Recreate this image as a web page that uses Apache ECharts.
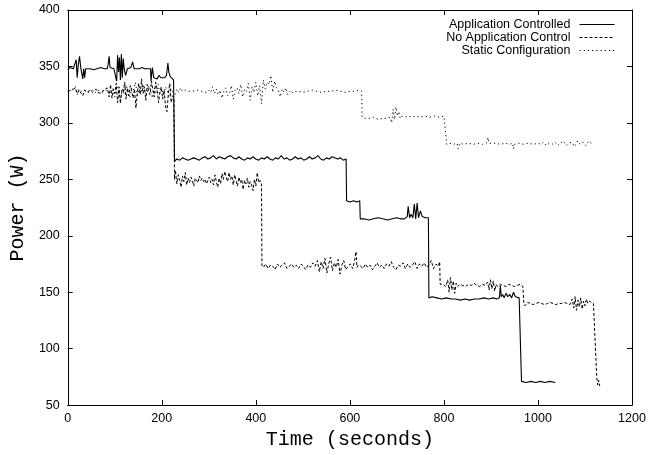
<!DOCTYPE html>
<html>
<head>
<meta charset="utf-8">
<script src="https://cdn.jsdelivr.net/npm/echarts@6/dist/echarts.min.js"></script>
<style>html,body{margin:0;padding:0;background:#fff}#c{width:656px;height:455px}</style>
</head>
<body>
<div id="c"></div>
<script>
const seriesNames = ['Application Controlled', 'No Application Control', 'Static Configuration'];
const xTicks = [0, 200, 400, 600, 800, 1000, 1200];
const yTicks = [50, 100, 150, 200, 250, 300, 350, 400];

// Application Controlled (solid)
const acTime = [0,4,8,12,16,18,20,22,25,28,32,34,36,38,42,48,55,62,70,78,84,86,88,90,94,98,102,104,106,108,110,112,114,116,118,120,123,127,130,134,138,141,146,152,158,164,170,176,
177,180,183,186,190,194,198,202,206,210,213,215,218,222,225,226,
227,232,238,244,250,256,262,268,274,280,286,292,298,304,310,316,322,328,334,340,346,352,358,364,370,376,382,388,394,400,406,412,418,424,430,436,442,448,454,460,466,472,478,484,490,496,502,508,514,520,526,532,538,544,550,556,562,574,580,586,592,
593,600,608,615,621,
622,630,640,650,660,670,680,690,700,708,716,722,724,727,730,734,737,740,743,746,750,754,760,767,
768,775,785,795,805,815,825,835,845,855,865,875,885,895,905,912,918,920,922,925,928,932,936,940,944,948,952,956,960,963,
965,975,985,995,1005,1015,1025,1037];
const acPower = [347,349,348,348,347,356,340,350,359,348,339,348,340,348,349,348,347,348,349,348,348,352,359,349,348,348,349,337,360,345,358,338,361,340,357,348,342,348,348,349,354,348,348,348,349,348,348,348,
337,349,340,341,339,342,340,341,340,342,353,345,341,340,338,339,
266,268,267,269,268,267,268,269,268,267,269,270,268,269,271,268,270,269,268,270,271,269,268,270,268,267,269,268,270,268,267,269,268,270,268,267,269,268,271,268,269,267,268,270,268,269,267,268,270,268,269,271,268,267,269,268,270,268,269,267,268,
231,230,231,230,231,
215,215,214,215,216,215,214,215,216,215,215,217,226,216,219,216,228,215,229,216,222,217,216,216,
145,146,145,144,145,144,144,143,144,143,144,144,145,144,145,144,145,156,146,148,145,149,146,148,145,150,146,147,145,145,
71,70,71,70,71,70,71,70];

// No Application Control (dashed)
const nacTime = [0,4,8,12,16,20,24,28,32,36,40,44,48,52,56,60,64,68,72,76,80,84,88,
91,94,97,100,103,106,109,112,115,118,121,124,127,130,133,136,139,142,145,148,151,154,157,160,163,166,169,172,175,178,181,184,187,190,193,196,199,202,205,208,211,214,217,220,223,226,
227,229,232,235,238,241,244,247,250,253,256,259,262,265,268,271,274,277,280,283,286,289,292,295,298,301,304,307,310,313,316,319,322,325,328,331,334,337,340,343,346,349,352,355,358,361,364,367,370,373,376,379,382,385,388,391,394,397,400,403,406,409,412,
413,416,421,426,431,436,441,446,451,456,461,466,471,476,481,486,491,496,501,506,511,516,521,526,531,535,539,543,547,551,555,559,563,567,571,575,579,583,587,591,596,601,606,610,613,615,618,623,628,633,638,643,648,653,658,663,668,673,678,683,688,693,698,703,708,713,718,723,728,733,738,743,748,753,758,763,768,773,778,783,788,791,
792,794,799,804,808,811,814,817,820,823,826,829,834,840,846,852,858,864,870,876,882,888,893,896,899,902,905,908,911,914,920,926,932,938,944,950,956,962,968,
970,972,978,984,990,996,1002,1008,1014,1020,1026,1032,1038,1044,1050,1056,1062,1068,1073,1076,1079,1082,1085,1088,1091,1094,1097,1100,1103,1106,1110,1114,1118,1121,
1125,1127,1129,1131,1133];
const nacPower = [328,327,329,328,331,326,329,328,324,329,327,328,329,327,328,330,327,328,326,329,328,331,323,
334,322,330,326,335,318,332,317,329,327,336,321,331,324,333,328,322,330,313,327,335,325,339,326,332,320,334,328,325,337,329,323,336,330,318,327,332,321,329,314,310,326,335,318,324,322,
250,258,246,254,249,243,253,248,256,245,251,247,252,249,244,251,250,247,253,249,251,248,250,246,249,252,247,250,245,254,248,243,251,246,255,250,257,252,248,256,250,253,245,254,249,244,252,247,250,241,249,246,251,243,248,245,240,250,244,256,247,249,246,
174,172,175,171,174,173,170,175,172,174,176,171,173,175,172,174,171,175,173,170,174,172,176,173,178,168,177,171,180,167,175,181,169,176,172,179,166,174,178,170,173,175,171,178,186,172,174,173,171,175,172,174,170,173,176,172,174,171,175,173,177,172,170,174,173,176,171,175,172,174,177,171,175,173,176,172,174,178,171,175,173,177,
157,156,157,155,161,150,163,152,160,149,158,155,157,156,155,157,156,158,156,155,157,156,159,152,161,153,160,151,157,155,157,156,155,157,156,155,156,157,155,
140,138,141,140,139,140,141,140,139,140,141,140,139,140,140,141,140,139,144,136,146,134,143,137,145,135,142,138,144,140,142,141,140,139,
75,68,72,67,69];

// Static Configuration (dotted)
const scTime = [0,4,8,12,16,20,24,28,32,36,40,44,48,52,56,60,64,68,72,76,80,84,88,
92,96,100,104,108,112,116,120,124,128,132,136,140,144,148,152,156,160,164,168,172,176,180,184,188,192,196,200,204,208,212,216,220,224,
228,232,236,240,244,250,256,265,275,285,295,300,
304,308,312,316,320,324,328,332,336,340,344,348,352,356,360,364,368,372,376,380,384,388,392,396,400,404,408,412,416,420,424,428,432,436,440,444,448,452,456,460,464,468,472,476,480,
490,500,510,520,530,540,550,560,570,580,590,600,610,620,625,
626,632,640,650,660,670,680,686,689,692,695,698,701,704,707,710,716,724,732,740,750,760,770,780,790,800,803,
806,812,820,828,830,834,842,852,862,872,882,890,894,896,900,910,920,930,940,946,948,950,960,970,980,990,1000,1006,1012,1018,1024,1030,1036,1042,1048,1054,1060,1066,1072,1078,1084,1090,1096,1102,1108,1114,1118];
const scPower = [329,328,329,328,332,325,330,328,328,329,328,327,328,329,328,327,329,328,328,327,329,328,328,
326,331,323,333,328,320,330,326,334,327,322,331,329,336,324,330,327,334,328,325,333,329,322,331,327,334,326,330,325,332,328,323,330,327,
325,330,327,331,328,329,328,328,329,328,327,329,
327,332,326,330,325,329,322,328,331,324,326,333,321,329,331,326,334,323,330,328,335,320,332,327,336,324,333,317,338,330,336,334,342,327,337,331,329,323,330,327,331,325,328,326,328,
328,327,328,329,328,327,328,328,329,328,327,328,328,329,328,
305,304,304,305,303,304,304,305,300,312,303,314,306,310,304,306,305,306,305,306,305,306,305,306,305,306,305,
281,282,281,282,277,282,281,282,281,282,281,282,287,282,281,282,281,282,281,282,277,281,282,281,282,281,282,281,283,280,282,281,283,280,282,284,280,282,283,279,284,281,283,280,284,282,281];

function pairs(t, v) { return t.map((x, i) => [x, v[i]]); }

const chart = echarts.init(document.getElementById('c'), null, {renderer: 'canvas'});
const labelFont = {fontFamily: 'Liberation Sans, Arial, sans-serif', fontSize: 12.5, color: '#000'};
const tick = {show: true, inside: true, length: 5, lineStyle: {color: '#000', width: 1}};
const axisLine = {show: true, onZero: false, lineStyle: {color: '#000', width: 1}};
const nameFont = {fontFamily: 'Liberation Mono, Courier New, monospace', fontSize: 20, color: '#000'};

chart.setOption({
  animation: false,
  backgroundColor: '#fff',
  grid: {left: 65, right: 24, top: 10, bottom: 45, containLabel: false},
  legend: {
    orient: 'vertical', right: 36, top: 13, align: 'right',
    itemWidth: 35, itemHeight: 8, itemGap: 0,
    itemStyle: {opacity: 0},
    lineStyle: {width: 1},
    textStyle: Object.assign({}, labelFont, {lineHeight: 11, padding: [0, 4, 0, 0]}),
    data: seriesNames
  },
  xAxis: [
    {type: 'value', min: xTicks[0], max: xTicks[xTicks.length - 1], interval: 200, position: 'bottom',
     axisLine: axisLine, axisTick: tick, splitLine: {show: false},
     axisLabel: Object.assign({margin: 7, formatter: v => String(v)}, labelFont),
     name: 'Time (seconds)', nameLocation: 'middle', nameGap: 23, nameTextStyle: nameFont},
    {type: 'value', min: 0, max: 1200, interval: 200, position: 'top',
     axisLine: axisLine, axisTick: tick, splitLine: {show: false}, axisLabel: {show: false}}
  ],
  yAxis: [
    {type: 'value', min: yTicks[0], max: yTicks[yTicks.length - 1], interval: 50, position: 'left',
     axisLine: axisLine, axisTick: tick, splitLine: {show: false},
     axisLabel: Object.assign({margin: 8, formatter: v => String(v)}, labelFont),
     name: 'Power (W)', nameLocation: 'middle', nameGap: 35, nameRotate: 90, nameTextStyle: nameFont},
    {type: 'value', min: 50, max: 400, interval: 50, position: 'right',
     axisLine: axisLine, axisTick: tick, splitLine: {show: false}, axisLabel: {show: false}}
  ],
  series: [
    {name: seriesNames[0], type: 'line', data: pairs(acTime, acPower), showSymbol: false, symbol: 'none',
     lineStyle: {color: '#000', width: 1.1, type: 'solid'}, itemStyle: {color: '#000'}},
    {name: seriesNames[1], type: 'line', data: pairs(nacTime, nacPower), showSymbol: false, symbol: 'none',
     lineStyle: {color: '#000', width: 1, type: [3, 2]}, itemStyle: {color: '#000'}},
    {name: seriesNames[2], type: 'line', data: pairs(scTime, scPower), showSymbol: false, symbol: 'none',
     lineStyle: {color: '#000', width: 1, type: [1.2, 3]}, itemStyle: {color: '#000'}}
  ]
});
</script>
</body>
</html>
